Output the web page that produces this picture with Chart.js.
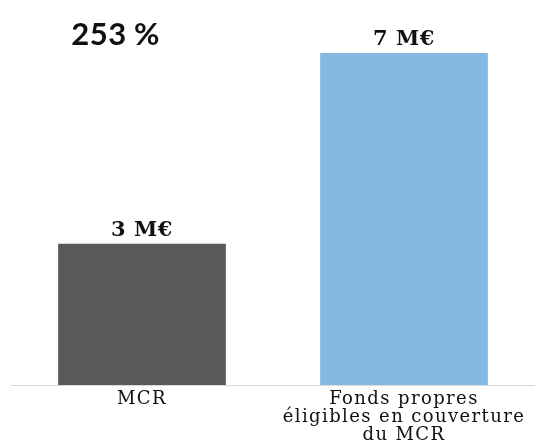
<!DOCTYPE html>
<html lang="fr">
  <head>
    <meta charset="UTF-8" />
    <title>MCR</title>
    <script src="https://cdn.jsdelivr.net/npm/chart.js"></script>
    <style>
      html, body { margin: 0; padding: 0; background: #fff; }
      #wrap { width: 535px; height: 445px; }
    </style>
  </head>
  <body>
    <div id="wrap"><canvas id="mcrChart"></canvas></div>

    <script>
    const categories = ['MCR', ['Fonds propres', 'éligibles en couverture', 'du MCR']];
    const values = [2.98, 7.0];            // M€
    const valueLabels = ['3 M€', '7 M€'];
    const ratioLabel = ['253', '%'];
    const barColors = ['#595959', '#85b9e3'];

    // wider letter spacing for the axis labels (the original font is wide)
    const spacing = {
        id: 'spacing',
        beforeDraw(chart) {
            chart.ctx.letterSpacing = '1.4px';
        }
    };

    // value labels above bars + ratio text at top left
    const barLabels = {
        id: 'barLabels',
        afterDatasetsDraw(chart) {
            const {ctx} = chart;
            const meta = chart.getDatasetMeta(0);
            ctx.save();
            ctx.letterSpacing = '0.5px';
            ctx.fillStyle = '#111';
            ctx.textAlign = 'center';
            ctx.textBaseline = 'alphabetic';
            ctx.font = "bold 21px 'DejaVu Serif', serif";
            meta.data.forEach((bar, i) => {
                ctx.fillText(valueLabels[i], bar.x, bar.y - 8);
            });
            ctx.font = 'bold 31px Lato';
            ctx.fillText(ratioLabel[0], 99, 45);
            ctx.fillText(ratioLabel[1], 147, 45);
            ctx.restore();
        }
    };

    new Chart(document.getElementById('mcrChart'), {
        type: 'bar',
        data: {
            labels: categories,
            datasets: [{
                data: values,
                backgroundColor: barColors,
                borderWidth: 0,
                categoryPercentage: 1,
                barPercentage: 0.64
            }]
        },
        options: {
            responsive: true,
            maintainAspectRatio: false,
            animation: false,
            layout: { padding: { left: 11, right: 0, top: 0, bottom: -4 } },
            plugins: {
                legend: { display: false },
                tooltip: { enabled: false }
            },
            scales: {
                x: {
                    grid: { display: false, drawTicks: false },
                    border: { display: true, color: '#d9d9d9', width: 1 },
                    ticks: {
                        color: '#111',
                        padding: 5,
                        maxRotation: 0,
                        autoSkip: false,
                        font: { family: "'DejaVu Serif', serif", size: 18, lineHeight: 1.0 }
                    }
                },
                y: {
                    display: false,
                    min: 0,
                    max: 8.12
                }
            }
        },
        plugins: [spacing, barLabels]
    });
    </script>
  </body>
</html>
